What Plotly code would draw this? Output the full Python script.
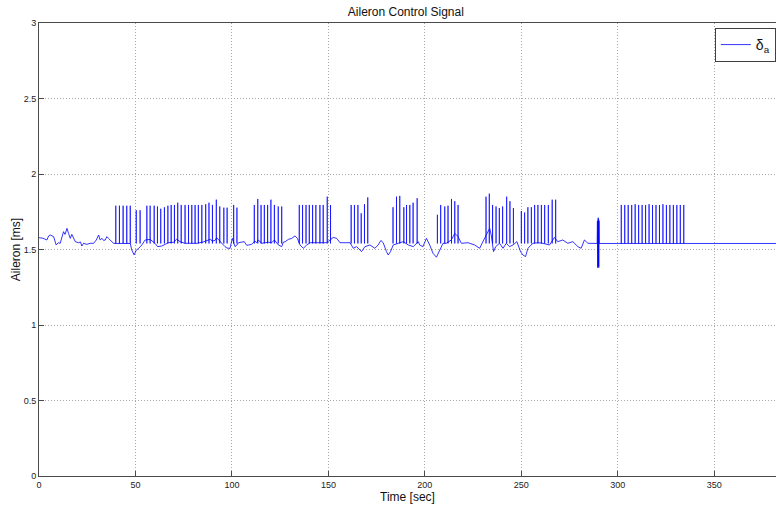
import plotly.graph_objects as go

# Aileron command: slowly varying part (time in s, value in ms)
base_t = [0, 2, 4.1, 5.0, 5.8, 7.0, 7.6, 8.9, 10.0, 11.0, 11.8, 12.7, 13.5, 14.5, 15.3,
          16.2, 17.0, 17.6, 18.8, 20.5, 21.5, 22.2, 23.1, 24.8, 26.5, 28.3, 29.7, 30.9,
          31.7, 32.6, 33.5, 34.3, 35.2, 36.0, 36.9, 38.6, 40, 47.3, 48.1, 49.3, 50.4,
          51.6, 53.3, 55.0, 57.6, 60.2, 61.5, 62.8, 63.6, 65.4, 67.0, 69.7, 71.4, 73.1,
          75.7, 82.0, 85.2, 87.8, 88.7, 89.9, 91.2, 92.1, 93.9, 96.4, 97.4, 99.0, 100.2,
          101.6, 102.6, 103.4, 106.4, 107.6, 108.7, 110.2, 111.9, 112.8, 113.6, 115.4,
          117.2, 118.9, 120.6, 122.0, 124.1, 125.8, 126.6, 127.5, 129.3, 131.0, 132.7,
          133.9, 135.3, 137.0, 138.8, 140.5, 149.1, 152.5, 154.3, 156.0, 161.2, 162.9,
          164.6, 167.2, 168.9, 171.5, 174.1, 175.8, 177.2, 178.4, 180.1, 181.0, 182.2,
          183.6, 186.2, 188.8, 191.4, 194.0, 196.6, 197.3, 199.0, 200.8, 202.5, 204.2,
          206.0, 207.7, 209.4, 211.1, 213.7, 215.5, 217.2, 218.9, 222.4, 225.8, 228.4,
          230.5, 232.2, 233.6, 234.4, 235.6, 236.7, 238.7, 240.5, 242.2, 243.9, 245.7,
          247.7, 249.6, 250.8, 252.2, 253.4, 256.0, 258.6, 261.2, 264.6, 267.2, 268.9,
          271.5, 274.1, 276.7, 279.3, 281.0, 282.7, 284.5, 289.3,
          289.45, 289.55, 289.65, 289.75, 289.85, 289.95, 290.05, 290.15, 290.25, 290.4,
          290.5, 382]
base_v = [1.578, 1.575, 1.563, 1.59, 1.596, 1.592, 1.585, 1.530, 1.545, 1.541, 1.575,
          1.618, 1.60, 1.640, 1.607, 1.574, 1.60, 1.585, 1.552, 1.545, 1.55, 1.523,
          1.541, 1.534, 1.541, 1.541, 1.563, 1.596, 1.563, 1.574, 1.56, 1.563, 1.585,
          1.574, 1.563, 1.541, 1.54, 1.54, 1.496, 1.464, 1.496, 1.507, 1.53, 1.563,
          1.567, 1.54, 1.519, 1.519, 1.523, 1.534, 1.545, 1.548, 1.568, 1.552, 1.541,
          1.541, 1.55, 1.563, 1.567, 1.556, 1.56, 1.578, 1.552, 1.519, 1.51, 1.507,
          1.574, 1.519, 1.53, 1.545, 1.552, 1.528, 1.53, 1.534, 1.556, 1.545, 1.563,
          1.541, 1.545, 1.548, 1.545, 1.563, 1.53, 1.519, 1.548, 1.551, 1.567, 1.574,
          1.59, 1.574, 1.53, 1.508, 1.53, 1.545, 1.545, 1.58, 1.574, 1.545, 1.545,
          1.508, 1.519, 1.486, 1.519, 1.53, 1.508, 1.53, 1.56, 1.545, 1.486, 1.464,
          1.486, 1.53, 1.541, 1.552, 1.53, 1.519, 1.552, 1.53, 1.519, 1.574, 1.53,
          1.475, 1.449, 1.497, 1.541, 1.541, 1.563, 1.607, 1.585, 1.541, 1.545, 1.53,
          1.508, 1.563, 1.607, 1.64, 1.596, 1.486, 1.519, 1.541, 1.508, 1.541, 1.519,
          1.53, 1.552, 1.486, 1.464, 1.453, 1.508, 1.541, 1.545, 1.541, 1.53, 1.58,
          1.552, 1.563, 1.541, 1.552, 1.519, 1.508, 1.563, 1.541, 1.54,
          1.69, 1.38, 1.70, 1.38, 1.71, 1.39, 1.70, 1.38, 1.69, 1.54,
          1.54, 1.54]

# Pulse commands: time and peak value
spike_t = [39.8, 41.7, 43.6, 45.5, 47.3,
           50.4, 52.4, 55.9, 57.6, 59.7, 61.4, 63.1, 65.0, 66.8, 68.5, 70.2, 71.9, 73.7,
           75.7, 77.5, 79.2, 80.9, 82.6, 84.4, 86.4, 88.1, 89.9, 91.9, 93.7, 95.8, 97.5,
           100.9, 102.6,
           111.6, 113.4, 115.1, 116.8, 118.5, 120.2, 122.0, 124.0, 125.8,
           134.9, 136.6, 138.4, 140.1, 141.8, 143.5, 145.6, 147.3, 149.4, 151.1,
           161.8, 163.5, 165.3, 167.0, 168.7, 170.4,
           183.5, 185.3, 187.0, 189.1, 190.5, 192.2, 193.9, 196.0,
           206.5, 208.2, 210.3, 212.0, 213.8, 215.5, 217.2,
           231.7, 233.4, 235.1, 236.9, 238.6, 240.3, 242.4, 244.1, 245.9, 250.0, 251.7,
           253.4, 255.2, 256.9, 258.6, 260.4, 262.1, 264.0, 266.0, 267.8,
           301.8, 303.6, 305.4, 307.2, 309.0, 310.8, 312.6, 314.4, 316.2, 318.0, 319.8,
           321.6, 323.4, 325.2, 327.0, 328.8, 330.6, 332.4, 334.2]
spike_v = [1.79, 1.79, 1.79, 1.79, 1.79,
           1.76, 1.76, 1.79, 1.79, 1.79, 1.785, 1.77, 1.78, 1.79, 1.795, 1.795, 1.81, 1.795,
           1.795, 1.795, 1.795, 1.795, 1.795, 1.795, 1.80, 1.81, 1.795, 1.83, 1.785, 1.777,
           1.777, 1.795, 1.777,
           1.795, 1.835, 1.795, 1.795, 1.795, 1.83, 1.795, 1.785, 1.785,
           1.795, 1.795, 1.795, 1.795, 1.795, 1.795, 1.795, 1.795, 1.85, 1.795,
           1.795, 1.795, 1.795, 1.74, 1.80, 1.845,
           1.78, 1.85, 1.855, 1.78, 1.795, 1.795, 1.81, 1.84,
           1.73, 1.795, 1.785, 1.79, 1.835, 1.82, 1.795,
           1.85, 1.87, 1.795, 1.785, 1.775, 1.785, 1.85, 1.82, 1.775, 1.755, 1.745,
           1.78, 1.78, 1.795, 1.795, 1.795, 1.795, 1.795, 1.83, 1.83,
           1.795, 1.795, 1.795, 1.795, 1.80, 1.795, 1.795, 1.795, 1.80, 1.795, 1.795,
           1.795, 1.80, 1.795, 1.795, 1.795, 1.795, 1.795, 1.795]
# pulses that pause at an intermediate level on the way
stepped_t = [41.7, 47.3, 61.4, 63.1, 65.0, 79.2, 80.9, 84.4, 97.5, 100.9, 118.5, 125.8,
             143.5, 145.6, 149.4, 151.1, 167.0, 168.7, 170.4, 190.5, 192.2, 193.9, 196.0,
             212.0, 213.8, 215.5, 233.4, 235.1, 238.6, 240.3, 253.4, 255.2,
             310.8, 312.6, 314.4, 316.2, 318.0, 319.8, 321.6, 330.6, 332.4, 334.2]
spike_base = 1.54
step_level = 1.66

x_ticks = [0, 50, 100, 150, 200, 250, 300, 350]
y_ticks = [0, 0.5, 1, 1.5, 2, 2.5, 3]
y_tick_text = ["0", "0.5", "1", "1.5", "2", "2.5", "3"]

line_color = "#0000ff"

sx, sy = [], []
for t, v in zip(spike_t, spike_v):
    if t in stepped_t:
        sx += [t, t, t, t, None]
        sy += [spike_base, step_level, v, spike_base, None]
    else:
        sx += [t, t, t, None]
        sy += [spike_base, v, spike_base, None]

fig = go.Figure()
fig.add_trace(go.Scatter(x=sx, y=sy, mode="lines", showlegend=False,
                         line=dict(color=line_color, width=0.7), hoverinfo="skip"))
fig.add_trace(go.Scatter(x=base_t, y=base_v, mode="lines", name="δ<sub>a</sub>",
                         line=dict(color=line_color, width=0.8)))

font_family = "Liberation Sans, Arial"
axis_common = dict(
    showline=True, linecolor="#4a4a4a", linewidth=1,
    ticks="inside", ticklen=5, tickcolor="#4a4a4a",
    showgrid=True, gridcolor="#a8a8a8", griddash="1px,2px", gridwidth=1,
    zeroline=False, tickfont=dict(family=font_family, size=9, color="#222"),
)

fig.update_layout(
    width=776, height=506,
    margin=dict(l=39, r=0, t=23, b=30, autoexpand=False),
    paper_bgcolor="white", plot_bgcolor="white",
    title=dict(text="Aileron Control Signal", x=0.523, xanchor="center", y=0.976,
               yanchor="middle", font=dict(family=font_family, size=12, color="#111")),
    xaxis=dict(range=[0, 382], tickvals=x_ticks, mirror=True,
               title=dict(text="Time [sec]", standoff=0,
                          font=dict(family=font_family, size=12, color="#111")),
               **axis_common),
    yaxis=dict(range=[0, 3], tickvals=y_ticks, ticktext=y_tick_text,
               title=dict(text="Aileron [ms]", standoff=0,
                          font=dict(family=font_family, size=12, color="#111")),
               **axis_common),
    legend=dict(x=0.917, y=0.989, xanchor="left", yanchor="top", itemwidth=30,
                bordercolor="#404040", borderwidth=1, bgcolor="white",
                font=dict(family=font_family, size=14, color="#111")),
    showlegend=True,
)

fig.write_html("out.html")
